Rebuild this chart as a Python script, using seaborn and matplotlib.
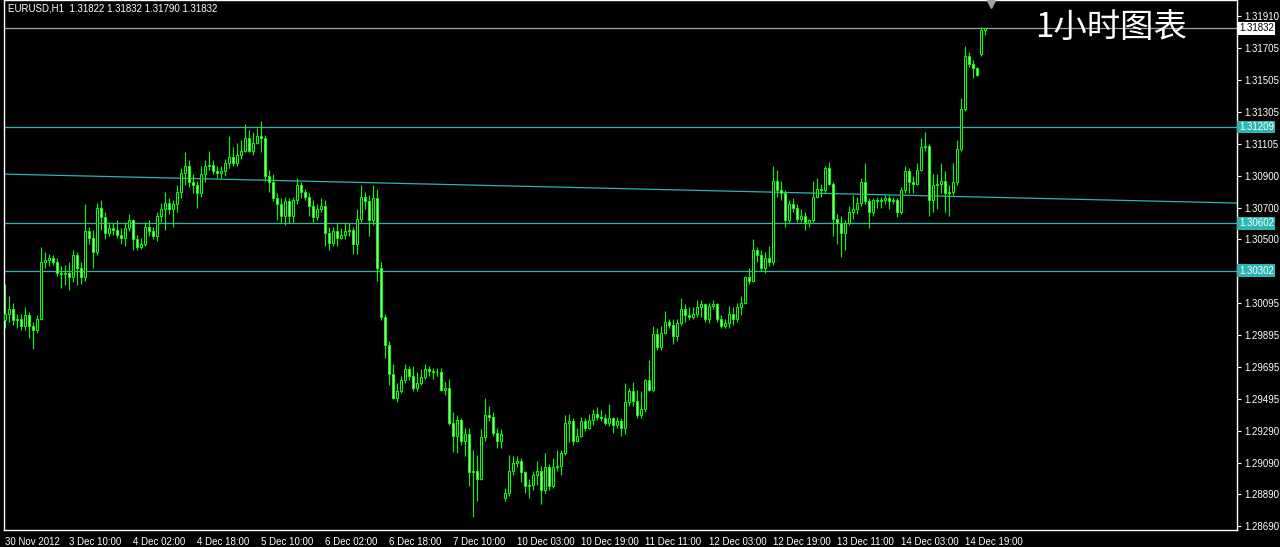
import numpy as np
import pandas as pd
import matplotlib
matplotlib.use("Agg")
import matplotlib.pyplot as plt
import matplotlib.transforms as mtransforms
import seaborn as sns

# EURUSD H1 candles (oldest first)
opens = [
    1.2999, 1.3003, 1.3006, 1.2999, 1.3000, 1.2995, 1.3002, 1.2995, 1.2993, 1.3000,
    1.3036, 1.3037, 1.3038, 1.3036, 1.3029, 1.3028, 1.3029, 1.3026, 1.3040, 1.3032,
    1.3026, 1.3055, 1.3051, 1.3042, 1.3070, 1.3064, 1.3054, 1.3057, 1.3056, 1.3053,
    1.3051, 1.3057, 1.3062, 1.3050, 1.3045, 1.3047, 1.3058, 1.3055, 1.3052, 1.3065,
    1.3069, 1.3073, 1.3069, 1.3072, 1.3080, 1.3092, 1.3096, 1.3086, 1.3084, 1.3079,
    1.3091, 1.3096, 1.3097, 1.3093, 1.3092, 1.3093, 1.3098, 1.3102, 1.3098, 1.3103,
    1.3106, 1.3114, 1.3106, 1.3111, 1.3115, 1.3114, 1.3090, 1.3086, 1.3076, 1.3072,
    1.3065, 1.3074, 1.3065, 1.3075, 1.3084, 1.3080, 1.3077, 1.3071, 1.3064, 1.3069,
    1.3071, 1.3054, 1.3048, 1.3055, 1.3051, 1.3053, 1.3055, 1.3056, 1.3047, 1.3063,
    1.3077, 1.3074, 1.3062, 1.3076, 1.3032, 1.3001, 1.2983, 1.2965, 1.2950, 1.2954,
    1.2961, 1.2968, 1.2964, 1.2956, 1.2959, 1.2963, 1.2968, 1.2967, 1.2966, 1.2966,
    1.2955, 1.2956, 1.2934, 1.2926, 1.2936, 1.2923, 1.2927, 1.2903, 1.2904, 1.2899,
    1.2925, 1.2939, 1.2938, 1.2928, 1.2923, 1.2887, 1.2890, 1.2904, 1.2909, 1.2910,
    1.2903, 1.2894, 1.2895, 1.2901, 1.2904, 1.2892, 1.2906, 1.2894, 1.2906, 1.2907,
    1.2915, 1.2934, 1.2935, 1.2923, 1.2926, 1.2935, 1.2931, 1.2936, 1.2940, 1.2938,
    1.2937, 1.2934, 1.2937, 1.2933, 1.2935, 1.2931, 1.2947, 1.2954, 1.2948, 1.2939,
    1.2943, 1.2961, 1.2955, 1.2990, 1.2982, 1.2991, 1.2998, 1.2996, 1.2989, 1.2997,
    1.3006, 1.3002, 1.3001, 1.3003, 1.3007, 1.3009, 1.3000, 1.3008, 1.3009, 1.3000,
    1.2995, 1.2997, 1.3003, 1.3000, 1.3007, 1.3010, 1.3026, 1.3024, 1.3043, 1.3040,
    1.3032, 1.3038, 1.3036, 1.3087, 1.3081, 1.3079, 1.3062, 1.3072, 1.3070, 1.3063,
    1.3065, 1.3060, 1.3062, 1.3077, 1.3082, 1.3081, 1.3095, 1.3085, 1.3063, 1.3060,
    1.3054, 1.3060, 1.3067, 1.3069, 1.3073, 1.3086, 1.3074, 1.3067, 1.3075, 1.3074,
    1.3075, 1.3076, 1.3074, 1.3075, 1.3067, 1.3081, 1.3093, 1.3086, 1.3085, 1.3094,
    1.3108, 1.3109, 1.3075, 1.3084, 1.3085, 1.3087, 1.3079, 1.3080, 1.3086, 1.3107,
    1.3132, 1.3166, 1.3161, 1.3158, 1.3167, 1.31822,
]
highs = [
    1.3022, 1.3014, 1.3010, 1.3003, 1.3003, 1.3007, 1.3004, 1.2998, 1.3002, 1.3045,
    1.3042, 1.3041, 1.3040, 1.3038, 1.3033, 1.3034, 1.3036, 1.3043, 1.3042, 1.3036,
    1.3072, 1.3058, 1.3056, 1.3073, 1.3075, 1.3067, 1.3061, 1.3060, 1.3062, 1.3057,
    1.3061, 1.3066, 1.3063, 1.3053, 1.3051, 1.3061, 1.3062, 1.3058, 1.3067, 1.3073,
    1.3080, 1.3076, 1.3075, 1.3084, 1.3095, 1.3105, 1.3100, 1.3091, 1.3087, 1.3096,
    1.3100, 1.3106, 1.3100, 1.3096, 1.3096, 1.3101, 1.3115, 1.3108, 1.3111, 1.3113,
    1.3123, 1.3119, 1.3118, 1.3120, 1.3125, 1.3116, 1.3094, 1.3091, 1.3079, 1.3076,
    1.3077, 1.3076, 1.3077, 1.3089, 1.3086, 1.3082, 1.3079, 1.3075, 1.3072, 1.3076,
    1.3075, 1.3058, 1.3058, 1.3060, 1.3057, 1.3061, 1.3060, 1.3058, 1.3069, 1.3084,
    1.3080, 1.3078, 1.3084, 1.3082, 1.3036, 1.3003, 1.2986, 1.2971, 1.2959, 1.2964,
    1.2971, 1.2970, 1.2970, 1.2966, 1.2968, 1.2971, 1.2970, 1.2969, 1.2969, 1.2969,
    1.2960, 1.2962, 1.2941, 1.2939, 1.2937, 1.2931, 1.2931, 1.2917, 1.2914, 1.2930,
    1.2950, 1.2945, 1.2941, 1.2931, 1.2930, 1.2893, 1.2914, 1.2913, 1.2913, 1.2912,
    1.2904, 1.2899, 1.2904, 1.2910, 1.2907, 1.2915, 1.2908, 1.2912, 1.2917, 1.2917,
    1.2939, 1.2940, 1.2937, 1.2931, 1.2938, 1.2937, 1.2940, 1.2943, 1.2944, 1.2942,
    1.2940, 1.2946, 1.2938, 1.2938, 1.2937, 1.2959, 1.2956, 1.2960, 1.2955, 1.2954,
    1.2962, 1.2974, 1.2995, 1.2994, 1.2995, 1.3005, 1.3000, 1.3000, 1.3000, 1.3013,
    1.3009, 1.3007, 1.3007, 1.3012, 1.3012, 1.3010, 1.3010, 1.3012, 1.3010, 1.3002,
    1.3000, 1.3008, 1.3007, 1.3010, 1.3014, 1.3027, 1.3032, 1.3050, 1.3045, 1.3043,
    1.3042, 1.3046, 1.3096, 1.3094, 1.3087, 1.3081, 1.3075, 1.3076, 1.3072, 1.3069,
    1.3067, 1.3063, 1.3087, 1.3089, 1.3085, 1.3096, 1.3099, 1.3086, 1.3066, 1.3065,
    1.3062, 1.3071, 1.3078, 1.3077, 1.3089, 1.3098, 1.3076, 1.3076, 1.3077, 1.3077,
    1.3078, 1.3078, 1.3077, 1.3076, 1.3083, 1.3096, 1.3095, 1.3090, 1.3098, 1.3114,
    1.3118, 1.3110, 1.3091, 1.3091, 1.3098, 1.3093, 1.3084, 1.3098, 1.3113, 1.3139,
    1.3172, 1.3168, 1.3163, 1.3159, 1.3184, 1.31832,
]
lows = [
    1.2994, 1.2998, 1.2996, 1.2994, 1.2993, 1.2993, 1.2988, 1.2981, 1.2991, 1.2999,
    1.3032, 1.3033, 1.3034, 1.3027, 1.3019, 1.3021, 1.3018, 1.3023, 1.3021, 1.3022,
    1.3024, 1.3047, 1.3032, 1.3040, 1.3056, 1.3050, 1.3052, 1.3053, 1.3051, 1.3047,
    1.3046, 1.3055, 1.3043, 1.3043, 1.3044, 1.3046, 1.3052, 1.3050, 1.3049, 1.3061,
    1.3056, 1.3066, 1.3058, 1.3067, 1.3076, 1.3084, 1.3083, 1.3079, 1.3070, 1.3077,
    1.3086, 1.3094, 1.3091, 1.3089, 1.3089, 1.3090, 1.3095, 1.3096, 1.3096, 1.3101,
    1.3105, 1.3105, 1.3103, 1.3110, 1.3105, 1.3087, 1.3080, 1.3074, 1.3062, 1.3061,
    1.3059, 1.3060, 1.3061, 1.3072, 1.3076, 1.3075, 1.3065, 1.3061, 1.3062, 1.3067,
    1.3046, 1.3043, 1.3046, 1.3046, 1.3050, 1.3050, 1.3052, 1.3041, 1.3041, 1.3061,
    1.3069, 1.3052, 1.3059, 1.3024, 1.2999, 1.2975, 1.2958, 1.2949, 1.2947, 1.2953,
    1.2959, 1.2961, 1.2954, 1.2954, 1.2958, 1.2962, 1.2964, 1.2962, 1.2964, 1.2954,
    1.2952, 1.2933, 1.2916, 1.2915, 1.2920, 1.2913, 1.2894, 1.2875, 1.2885, 1.2898,
    1.2923, 1.2935, 1.2926, 1.2918, 1.2918, 1.2885, 1.2888, 1.2901, 1.2906, 1.2897,
    1.2890, 1.2887, 1.2892, 1.2895, 1.2883, 1.2890, 1.2892, 1.2893, 1.2904, 1.2901,
    1.2914, 1.2922, 1.2920, 1.2922, 1.2925, 1.2929, 1.2930, 1.2933, 1.2936, 1.2935,
    1.2933, 1.2932, 1.2928, 1.2931, 1.2926, 1.2927, 1.2945, 1.2945, 1.2937, 1.2937,
    1.2941, 1.2954, 1.2954, 1.2980, 1.2980, 1.2990, 1.2994, 1.2984, 1.2986, 1.2996,
    1.2998, 1.2999, 1.3000, 1.3001, 1.3001, 1.2998, 1.2997, 1.3006, 1.2998, 1.2994,
    1.2994, 1.2994, 1.2996, 1.2998, 1.3002, 1.3009, 1.3022, 1.3023, 1.3036, 1.3030,
    1.3029, 1.3033, 1.3034, 1.3077, 1.3075, 1.3058, 1.3061, 1.3067, 1.3061, 1.3061,
    1.3056, 1.3058, 1.3061, 1.3076, 1.3077, 1.3079, 1.3084, 1.3052, 1.3047, 1.3039,
    1.3043, 1.3059, 1.3063, 1.3066, 1.3071, 1.3072, 1.3057, 1.3065, 1.3070, 1.3070,
    1.3072, 1.3069, 1.3072, 1.3064, 1.3066, 1.3079, 1.3079, 1.3079, 1.3084, 1.3093,
    1.3106, 1.3065, 1.3067, 1.3069, 1.3079, 1.3067, 1.3065, 1.3078, 1.3084, 1.3106,
    1.3131, 1.3159, 1.3152, 1.3153, 1.3166, 1.31790,
]
closes = [
    1.3003, 1.3006, 1.2999, 1.3000, 1.2995, 1.3002, 1.2995, 1.2993, 1.3000, 1.3036,
    1.3037, 1.3038, 1.3036, 1.3029, 1.3028, 1.3029, 1.3026, 1.3040, 1.3032, 1.3026,
    1.3055, 1.3051, 1.3042, 1.3070, 1.3064, 1.3054, 1.3057, 1.3056, 1.3053, 1.3051,
    1.3057, 1.3062, 1.3050, 1.3045, 1.3047, 1.3058, 1.3055, 1.3052, 1.3065, 1.3069,
    1.3073, 1.3069, 1.3072, 1.3080, 1.3092, 1.3096, 1.3086, 1.3084, 1.3079, 1.3091,
    1.3096, 1.3097, 1.3093, 1.3092, 1.3093, 1.3098, 1.3102, 1.3098, 1.3103, 1.3106,
    1.3114, 1.3106, 1.3111, 1.3115, 1.3114, 1.3090, 1.3086, 1.3076, 1.3072, 1.3065,
    1.3074, 1.3065, 1.3075, 1.3084, 1.3080, 1.3077, 1.3071, 1.3064, 1.3069, 1.3071,
    1.3054, 1.3048, 1.3055, 1.3051, 1.3053, 1.3055, 1.3056, 1.3047, 1.3063, 1.3077,
    1.3074, 1.3062, 1.3076, 1.3032, 1.3001, 1.2983, 1.2965, 1.2950, 1.2954, 1.2961,
    1.2968, 1.2964, 1.2956, 1.2959, 1.2963, 1.2968, 1.2967, 1.2966, 1.2966, 1.2955,
    1.2956, 1.2934, 1.2926, 1.2936, 1.2923, 1.2927, 1.2903, 1.2904, 1.2899, 1.2925,
    1.2939, 1.2938, 1.2928, 1.2923, 1.2927, 1.2890, 1.2904, 1.2909, 1.2910, 1.2903,
    1.2894, 1.2895, 1.2901, 1.2904, 1.2892, 1.2906, 1.2894, 1.2906, 1.2907, 1.2915,
    1.2934, 1.2935, 1.2923, 1.2926, 1.2935, 1.2931, 1.2936, 1.2940, 1.2938, 1.2937,
    1.2934, 1.2937, 1.2933, 1.2935, 1.2931, 1.2947, 1.2954, 1.2948, 1.2939, 1.2943,
    1.2961, 1.2955, 1.2990, 1.2982, 1.2991, 1.2998, 1.2996, 1.2989, 1.2997, 1.3006,
    1.3002, 1.3001, 1.3003, 1.3007, 1.3009, 1.3000, 1.3008, 1.3009, 1.3000, 1.2995,
    1.2997, 1.3003, 1.3000, 1.3007, 1.3010, 1.3026, 1.3024, 1.3043, 1.3040, 1.3032,
    1.3038, 1.3036, 1.3087, 1.3081, 1.3079, 1.3062, 1.3072, 1.3070, 1.3063, 1.3065,
    1.3060, 1.3062, 1.3077, 1.3082, 1.3081, 1.3095, 1.3085, 1.3063, 1.3060, 1.3054,
    1.3060, 1.3067, 1.3069, 1.3073, 1.3086, 1.3074, 1.3067, 1.3075, 1.3074, 1.3075,
    1.3076, 1.3074, 1.3075, 1.3067, 1.3081, 1.3093, 1.3086, 1.3085, 1.3094, 1.3108,
    1.3109, 1.3075, 1.3084, 1.3085, 1.3087, 1.3079, 1.3080, 1.3086, 1.3107, 1.3132,
    1.3166, 1.3161, 1.3158, 1.3154, 1.3182, 1.31832,
]

# one time label every 16 bars
time_labels = ["30 Nov 2012", "3 Dec 10:00", "4 Dec 02:00", "4 Dec 18:00",
               "5 Dec 10:00", "6 Dec 02:00", "6 Dec 18:00", "7 Dec 10:00",
               "10 Dec 03:00", "10 Dec 19:00", "11 Dec 11:00", "12 Dec 03:00",
               "12 Dec 19:00", "13 Dec 11:00", "14 Dec 03:00", "14 Dec 19:00"]
label_step = 16

price_ticks = [1.31910, 1.31705, 1.31505, 1.31305, 1.31105, 1.30900, 1.30700,
               1.30500, 1.30095, 1.29895, 1.29695, 1.29495, 1.29290, 1.29090,
               1.28890, 1.28690]
level_lines = [1.31209, 1.30602, 1.30302]
bid_price = 1.31832
trend_bars = [-0.25, 308]
trend_prices = [1.30912, 1.30729]
header = "EURUSD,H1  1.31822 1.31832 1.31790 1.31832"
title = "1小时图表"

GREEN = "#00ff00"
PALE = "#b4f5a8"
CYAN = "#2bb5b5"
GREY = "#9aa6a6"

sns.set_theme(style="dark", rc={
    "axes.facecolor": "black", "figure.facecolor": "black",
    "axes.edgecolor": "white", "axes.grid": False,
    "xtick.color": "white", "ytick.color": "white",
})
plt.rcParams["font.family"] = ["Liberation Sans", "Noto Sans CJK SC", "DejaVu Sans"]

df = pd.DataFrame({"open": opens, "high": highs, "low": lows, "close": closes})
df["bar"] = np.arange(len(df))
up = df["close"] >= df["open"]

fig = plt.figure(figsize=(12.8, 5.47), dpi=100)
ax = fig.add_axes([4 / 1280, 17 / 547, 1233 / 1280, 530 / 547])

# support / resistance levels and trend line
for p in level_lines:
    ax.axhline(p, color=CYAN, lw=0.9, zorder=1)
ax.axhline(bid_price, color=GREY, lw=0.9, zorder=1)
sns.lineplot(x=trend_bars, y=trend_prices, ax=ax, color=CYAN, lw=0.9, zorder=1)

# candles
ax.vlines(df["bar"], df["low"], df["high"], color=GREEN, lw=0.8, zorder=2)
ax.bar(df["bar"], (df["close"] - df["open"]).abs(),
       bottom=df[["open", "close"]].min(axis=1), width=0.5,
       color=np.where(up, "black", PALE), edgecolor=GREEN, linewidth=0.75,
       zorder=3)

ax.set_xlim(-0.25, 308)
ax.set_ylim(1.28665, 1.32011)

for s in ax.spines.values():
    s.set_color("white")
    s.set_linewidth(1)

ax.yaxis.tick_right()
ax.set_yticks(price_ticks)
ax.set_yticklabels([f"{p:.5f}" for p in price_ticks])
ax.tick_params(axis="y", length=3, width=0.8, pad=2, labelsize=7,
               labelcolor="white", direction="out")
ax.set_xticks(range(0, label_step * len(time_labels), label_step))
ax.set_xticklabels(time_labels, ha="left")
ax.tick_params(axis="x", length=4, width=0.8, pad=1, labelsize=7,
               labelcolor="white", direction="out")
ax.set_xlabel("")
ax.set_ylabel("")

# price labels on the right scale
ytrans = ax.get_yaxis_transform()
for p in level_lines:
    ax.text(1.0015, p, f"{p:.5f}", transform=ytrans, ha="left", va="center",
            fontsize=7, color="white", zorder=5, clip_on=False,
            bbox=dict(boxstyle="square,pad=0.15", fc=CYAN, ec="none"))
ax.text(1.0015, bid_price, f"{bid_price:.5f}", transform=ytrans, ha="left",
        va="center", fontsize=7, color="black", zorder=5, clip_on=False,
        bbox=dict(boxstyle="square,pad=0.15", fc="white", ec="none"))

# chart shift marker
xtrans = mtransforms.blended_transform_factory(ax.transData, ax.transAxes)
ax.plot([len(df) + 0.5], [0.992], marker="v", color=GREY, markersize=6,
        transform=xtrans, clip_on=False, zorder=6)

ax.text(0.003, 0.993, header, transform=ax.transAxes, ha="left", va="top",
        fontsize=7, color="white")
ax.text(0.898, 0.947, title, transform=ax.transAxes, ha="center",
        va="center", fontsize=24, color="white", fontweight="light",
        family=["Noto Sans CJK SC", "DejaVu Sans"])

fig.savefig("out.png", dpi=100, facecolor="black")
